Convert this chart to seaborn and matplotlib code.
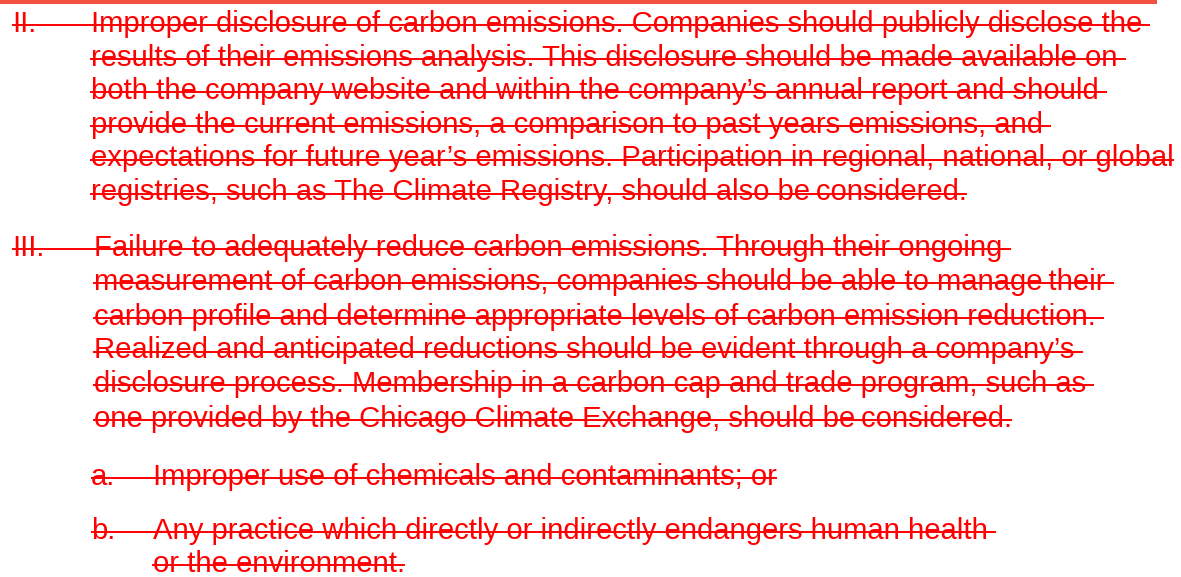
import matplotlib
matplotlib.use("Agg")
import matplotlib.pyplot as plt
import seaborn as sns

# text content
labels = ["II.", "III.", "a.", "b."]
para_ii = [
    "Improper disclosure of carbon emissions. Companies should publicly disclose the ",
    "results of their emissions analysis. This disclosure should be made available on ",
    "both the company website and within the company\u2019s annual report and should ",
    "provide the current emissions, a comparison to past years emissions, and ",
    "expectations for future year\u2019s emissions. Participation in regional, national, or global",
    "registries, such as The Climate Registry, should also be\u2009considered.",
]
para_iii = [
    "Failure to adequately reduce carbon emissions. Through their ongoing ",
    "measurement of carbon emissions, companies should be able to manage\u2009their ",
    "carbon profile and determine appropriate levels of carbon emission reduction. ",
    "Realized and anticipated reductions should be evident through a company\u2019s ",
    "disclosure process. Membership in a carbon cap and trade program, such as ",
    "one provided by the Chicago Climate Exchange, should be\u2009considered.",
]
item_a = ["Improper use of chemicals and contaminants; or"]
item_b = ["Any practice which directly or indirectly endangers human health ",
          "or the environment."]

# layout: (label, label_x, lines, text_x, baselines)
blocks = [
    (labels[0], 12, para_ii, 91, [31.5, 65.5, 99, 133, 166.5, 200.5]),
    (labels[1], 12, para_iii, 94, [256, 290, 325, 358.5, 392, 427]),
    (labels[2], 91, item_a, 153, [485]),
    (labels[3], 91, item_b, 153, [539, 572]),
]

RED = "#ff0000"
BAR = "#f25240"
FS = 21.05
STRIKE_UP = 6.8

sns.set_theme(style="white")
plt.rcParams["font.family"] = ["Liberation Sans", "DejaVu Sans"]

W, H = 1181, 577
fig = plt.figure(figsize=(W / 100, H / 100), dpi=100)
ax = fig.add_axes([0, 0, 1, 1])
ax.set_xlim(0, W)
ax.set_ylim(H, 0)
ax.axis("off")

# top bar
ax.axhspan(0, 4, xmin=0, xmax=1157 / W, color=BAR, lw=0)

fig.canvas.draw()
renderer = fig.canvas.get_renderer()


def text_width(s):
    t = ax.text(0, 0, s, fontsize=FS)
    bb = t.get_window_extent(renderer)
    t.remove()
    return bb.width


space_w = text_width("x x") - text_width("xx")

for label, lx, lines, tx, ys in blocks:
    ax.text(lx, ys[0], label, fontsize=FS, color=RED, va="baseline", ha="left")
    for i, (line, y) in enumerate(zip(lines, ys)):
        ax.text(tx, y, line.rstrip(), fontsize=FS, color=RED, va="baseline", ha="left")
        w = text_width(line.rstrip())
        if line.endswith(" "):
            w += space_w
        x0 = lx if i == 0 else tx - 1.5
        ax.plot([x0, tx + w], [y - STRIKE_UP, y - STRIKE_UP], color=RED, lw=1.4,
                solid_capstyle="butt")

fig.savefig("out.png", dpi=100)
